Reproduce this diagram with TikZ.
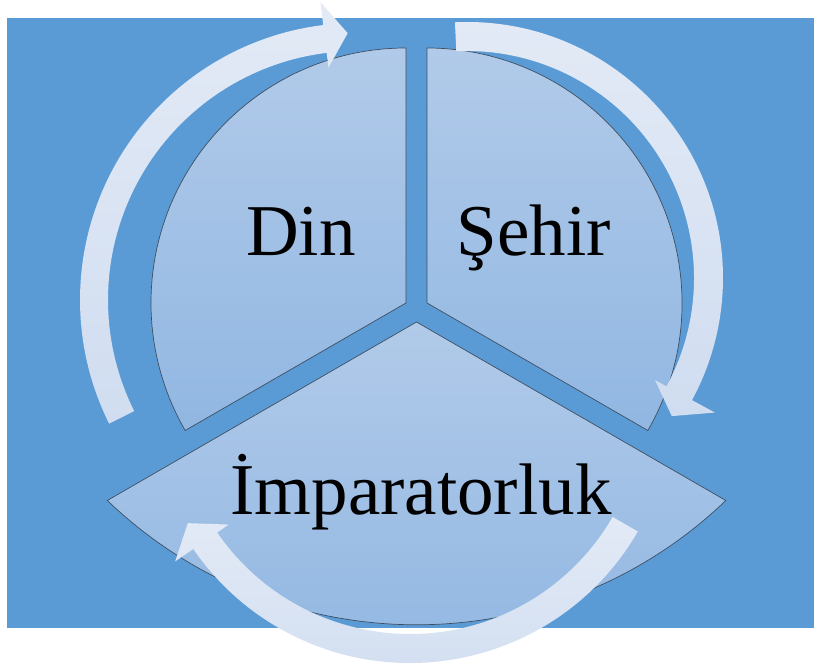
\documentclass[tikz,border=0pt]{standalone}
\usepackage{fontspec}
\setmainfont{Liberation Serif}
\definecolor{bgblue}{RGB}{91,155,213}
\definecolor{segtop}{RGB}{177,202,233}
\definecolor{segbottom}{RGB}{145,183,226}
\definecolor{segline}{RGB}{62,78,96}
\definecolor{arrtop}{RGB}{227,234,246}
\definecolor{arrbottom}{RGB}{208,221,240}
\begin{document}
\begin{tikzpicture}[x=1pt,y=1pt,
	segment/.style={draw=segline,line width=0.7pt,top color=segtop,bottom color=segbottom},
	cyclearrow/.style={top color=arrtop,bottom color=arrbottom},
	segtext/.style={font=\fontsize{73}{80}\selectfont,inner sep=0pt,anchor=base}]
	\useasboundingbox (0,0) rectangle (814,663);
	\fill[bgblue] (7,35) rectangle (814,645);

	% the three pieces
	\coordinate (din) at (406,360);
	\coordinate (sehir) at (427,360);
	\coordinate (imp) at (416.5,341);
	\path[segment] (din) -- ++(90:255) arc[start angle=90,end angle=210,radius=255] -- cycle;
	\path[segment] (sehir) -- ++(-30:255) arc[start angle=-30,end angle=90,radius=255] -- cycle;
	\path[segment] (imp) -- ++(210:357) arc[start angle=-133.8,end angle=-46.2,radius=446.8] -- cycle;

	% arrows round the cycle
	\coordinate (c1) at (357,363);
	\coordinate (c2) at (467,385);
	\coordinate (c3) at (410,263);
	\path[cyclearrow,shift={(c1)}] (206.5:277) arc[start angle=206.5,end angle=97,radius=277]
		-- (97:300) -- (92:267) -- (97:234) -- (97:249)
		arc[start angle=97,end angle=206.5,radius=249] -- cycle;
	\path[cyclearrow,shift={(c2)}] (92.7:256) arc[start angle=92.7,end angle=-28.5,radius=256]
		-- (-28.5:282) -- (-34:247) -- (-28.5:214) -- (-28.5:227)
		arc[start angle=-28.5,end angle=92.7,radius=227] -- cycle;
	\path[cyclearrow,shift={(c3)}] (-30:263) arc[start angle=-30,end angle=-145.5,radius=263]
		-- (-145.5:285) -- (-151:254) -- (-145.5:220) -- (-145.5:234)
		arc[start angle=-145.5,end angle=-30,radius=234] -- cycle;

	\node[segtext] (dintext) at (301,407) {Din};
	\node[segtext] (sehirtext) at (534,407) {Şehir};
	\node[segtext] (imptext) at (421,148) {İmparatorluk};
\end{tikzpicture}
\end{document}
